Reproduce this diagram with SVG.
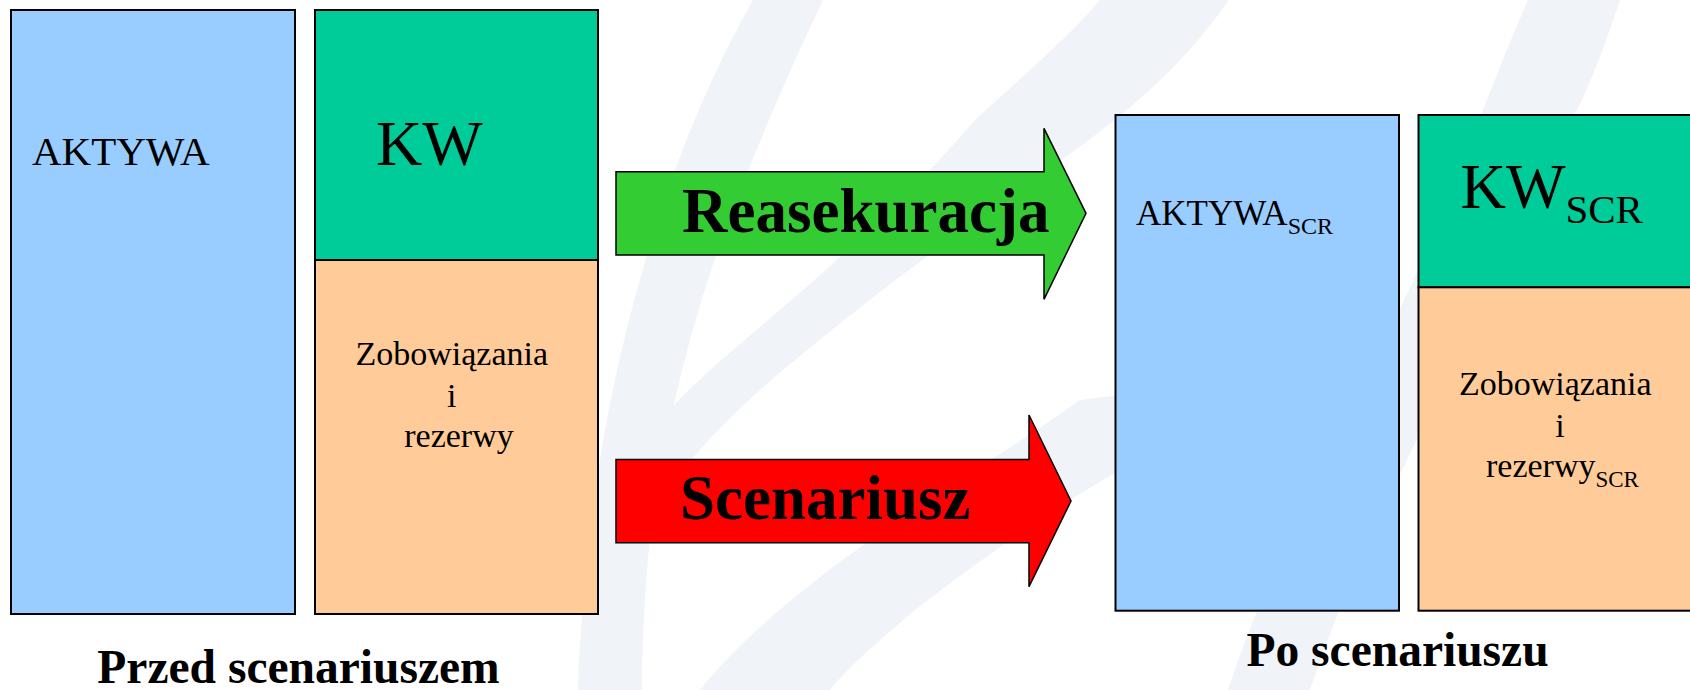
<svg xmlns="http://www.w3.org/2000/svg" width="1690" height="690" viewBox="0 0 1690 690">
  <style>
    .box { stroke: #000; stroke-width: 2; }
    .assets { fill: #99CCFF; }
    .capital { fill: #00CC99; }
    .liab { fill: #FFCC99; }
    .arrow { stroke: #000; stroke-width: 1.5; stroke-linejoin: miter; }
    .serif { font-family: "Liberation Serif", "Times New Roman", serif; fill: #000; }
    .bold { font-weight: bold; }
    .mid { text-anchor: middle; }
    .wm { fill: #F0F3F8; }
  </style>

  <!-- page background -->
  <rect x="0" y="0" width="1690" height="690" fill="#FFFFFF"/>

  <!-- faint background swooshes -->
  <g id="watermark">
    <path class="wm" d="M753,0 L823,0 C790,70 750,160 718,250 C690,330 665,430 652,520 C645,580 642,640 642,690 L578,690 C580,620 588,540 600,460 C614,370 640,270 668,190 C692,120 722,55 753,0 Z"/>
    <path class="wm" d="M1100,0 L1229,0 C1180,70 1120,120 1040,175 C940,245 840,320 760,390 C710,435 670,480 640,530 L592,520 C615,470 655,420 710,370 C790,300 880,230 975,120 C1030,70 1070,35 1100,0 Z"/>
    <path class="wm" d="M700,690 C740,640 800,590 870,540 C940,490 1010,450 1080,400 L1120,395 L1120,470 C1050,510 980,560 915,610 C880,640 850,665 830,690 Z"/>
    <path class="wm" d="M1528,0 L1620,0 C1600,60 1580,110 1570,120 C1500,300 1380,480 1310,690 L1228,690 C1290,500 1420,300 1479,120 C1495,80 1510,40 1528,0 Z"/>
  </g>

  <!-- balance before the scenario -->
  <g id="assets-before">
    <rect class="box assets" x="11" y="10" width="284" height="604"/>
    <text class="serif" x="32" y="165" font-size="41">AKTYWA</text>
  </g>
  <g id="capital-before">
    <rect class="box capital" x="315" y="10" width="283" height="250"/>
    <text class="serif" x="376" y="165" font-size="64">KW</text>
  </g>
  <g id="liabilities-before">
    <rect class="box liab" x="315" y="260" width="283" height="354"/>
    <text class="serif mid" font-size="34">
      <tspan x="456" y="365">Zobowiązania</tspan>
      <tspan x="456" y="406.7">i</tspan>
      <tspan x="459" y="446.7">rezerwy</tspan>
    </text>
  </g>
  <g id="title-before">
    <text class="serif bold mid" x="298.5" y="683" font-size="47.5">Przed scenariuszem</text>
  </g>

  <!-- transition arrows -->
  <g id="connectors">
    <g id="arrow-reinsurance">
      <polygon class="arrow" fill="#33CC33" points="616,171.7 1044,171.7 1044,128.3 1086,213.3 1044,299.3 1044,255 616,255"/>
      <text class="serif bold" x="682" y="231.7" font-size="63">Reasekuracja</text>
    </g>
    <g id="arrow-scenario">
      <polygon class="arrow" fill="#FF0000" points="616,459.5 1029,459.5 1029,415 1071,501 1029,586.7 1029,542.7 616,542.7"/>
      <text class="serif bold" x="680" y="519" font-size="63">Scenariusz</text>
    </g>
  </g>

  <!-- balance after the scenario -->
  <g id="assets-after">
    <rect class="box assets" x="1115.5" y="115" width="283.5" height="495.7"/>
    <text class="serif" x="1136" y="225" font-size="35">AKTYWA<tspan font-size="24" dy="9">SCR</tspan></text>
  </g>
  <g id="capital-after">
    <rect class="box capital" x="1418.5" y="115" width="290" height="172.3"/>
    <text class="serif" x="1460.5" y="208.3" font-size="63">KW<tspan font-size="41" dy="15">SCR</tspan></text>
  </g>
  <g id="liabilities-after">
    <rect class="box liab" x="1418.5" y="287.3" width="290" height="323.4"/>
    <text class="serif mid" font-size="34">
      <tspan x="1559.5" y="395">Zobowiązania</tspan>
      <tspan x="1560" y="436.7">i</tspan>
    </text>
    <text class="serif" x="1486" y="477.3" font-size="34">rezerwy<tspan font-size="23" dy="9.4">SCR</tspan></text>
  </g>
  <g id="title-after">
    <text class="serif bold mid" x="1397.5" y="666" font-size="47.5">Po scenariuszu</text>
  </g>
</svg>
